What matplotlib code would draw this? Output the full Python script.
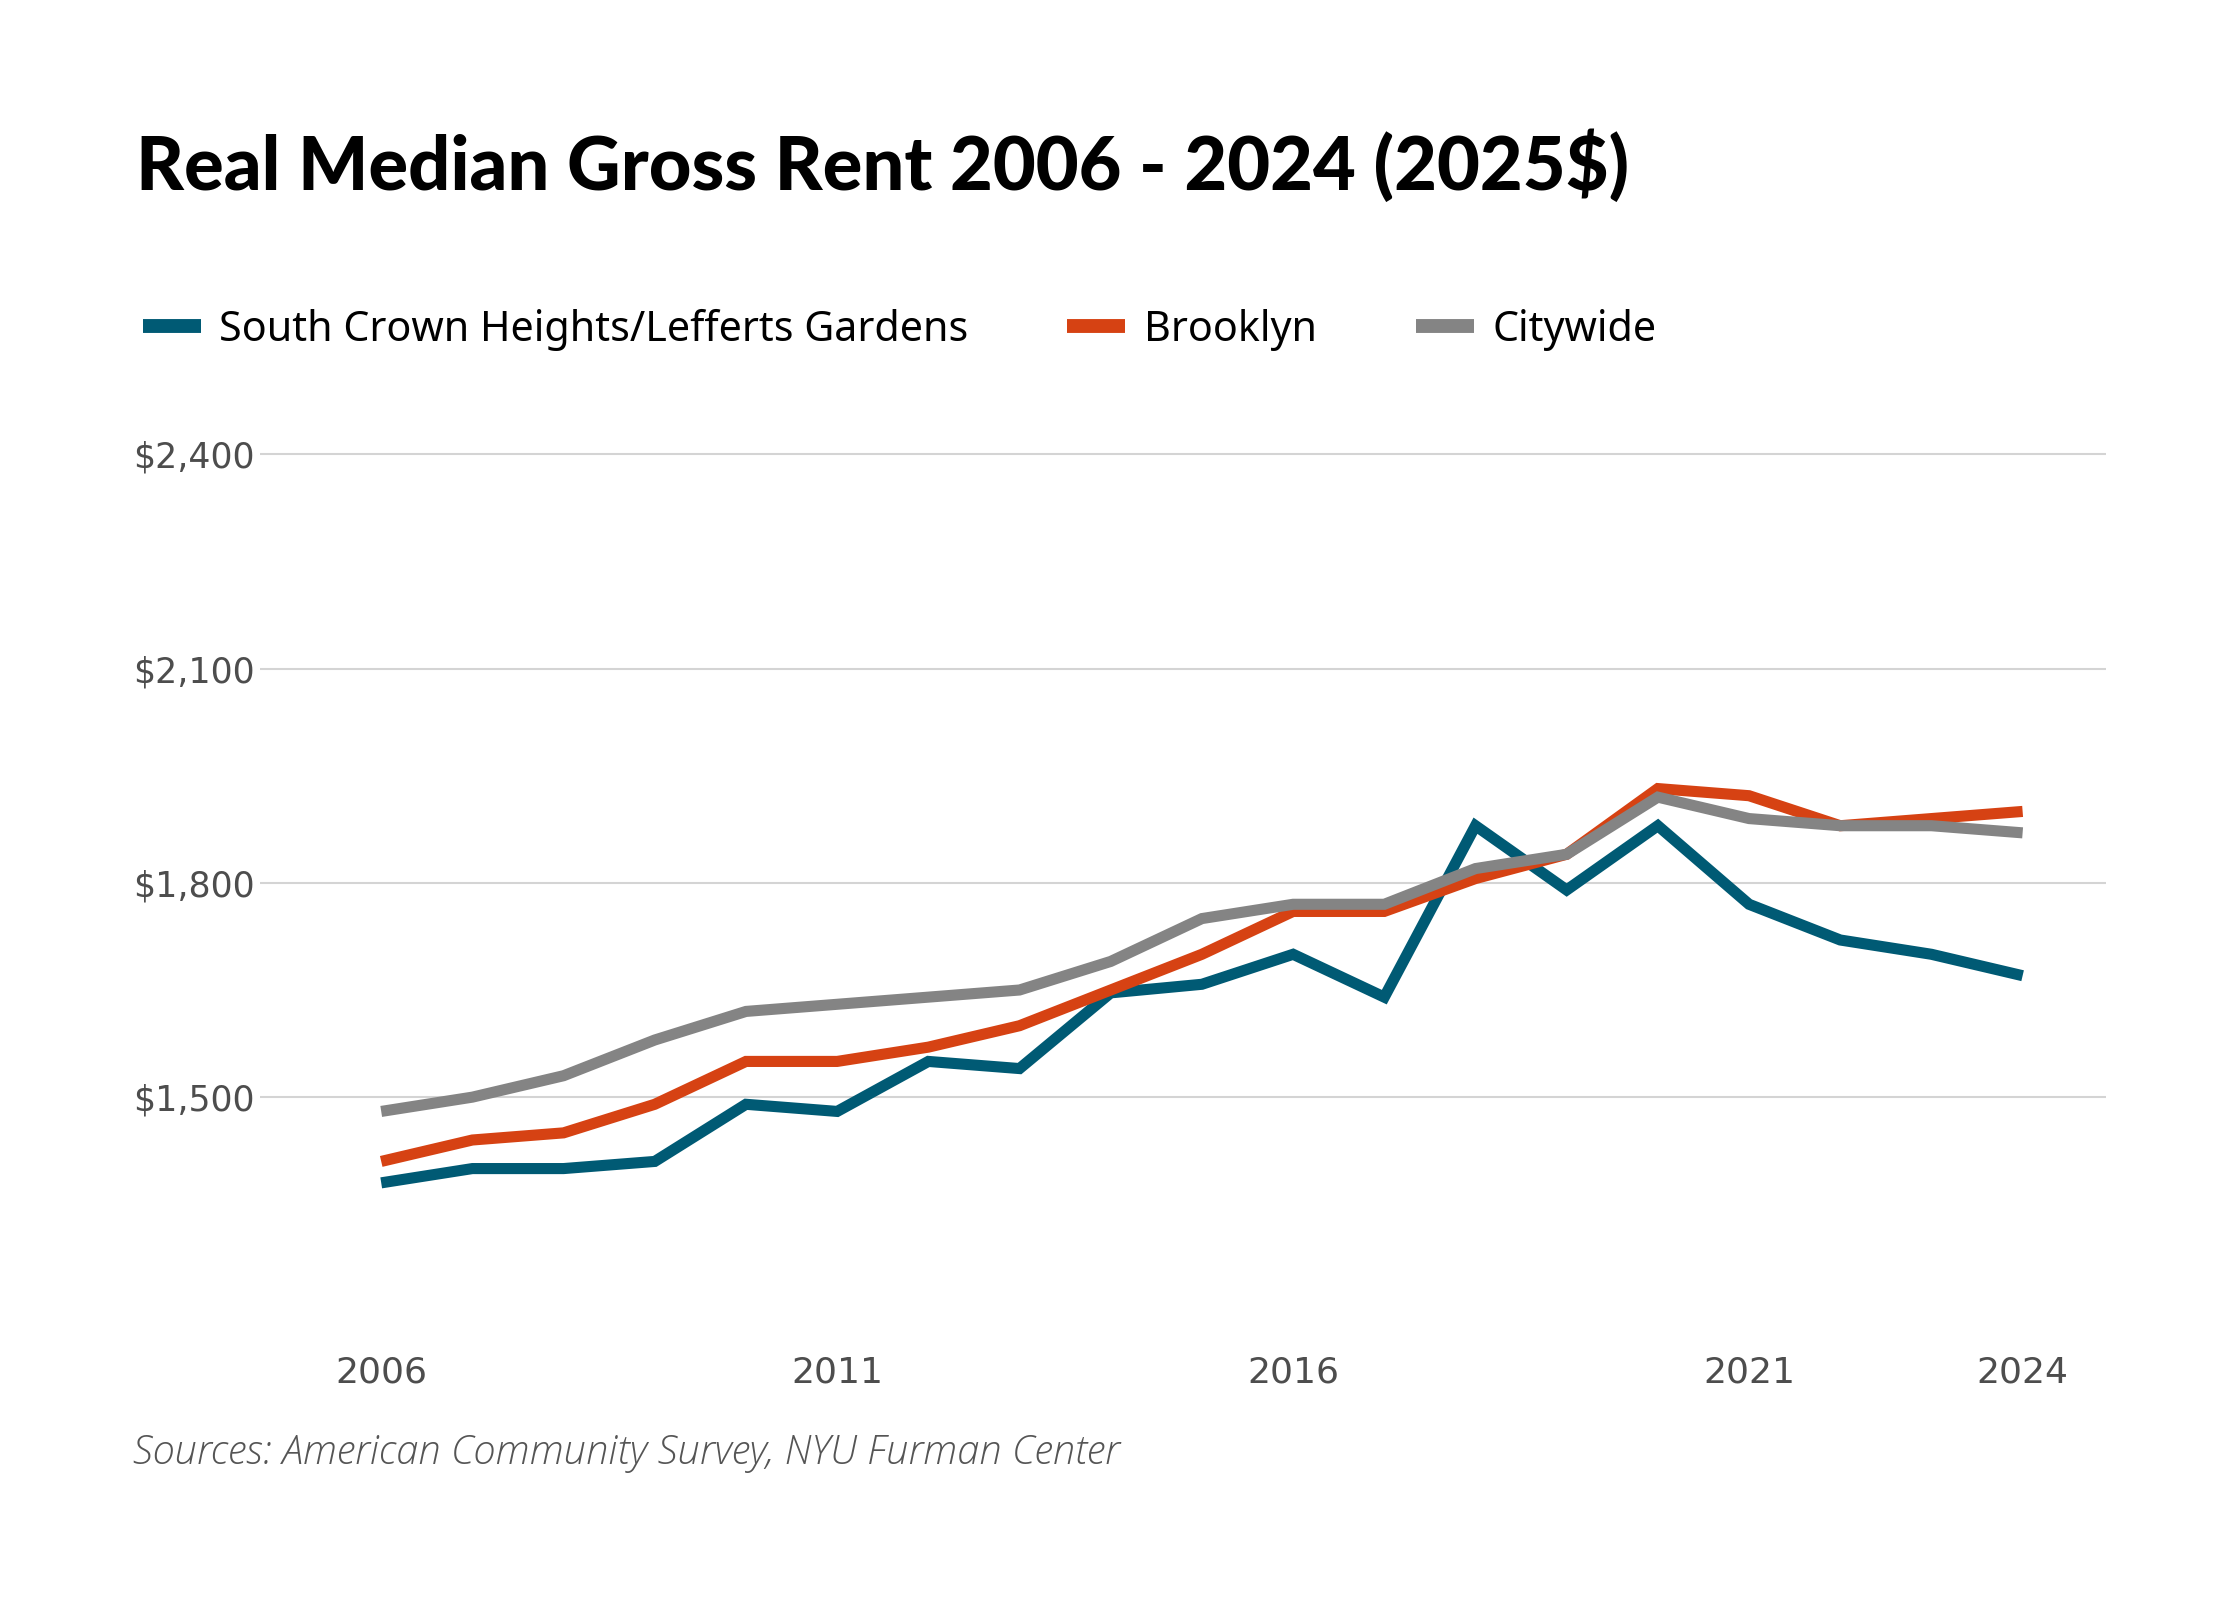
import matplotlib
matplotlib.use("Agg")
import matplotlib.pyplot as plt
from matplotlib.ticker import FuncFormatter

years = list(range(2006, 2025))
south_crown = [1380, 1400, 1400, 1410, 1490, 1480, 1550, 1540, 1646, 1658,
               1700, 1640, 1880, 1790, 1880, 1770, 1720, 1700, 1670]
brooklyn = [1410, 1440, 1450, 1490, 1550, 1550, 1570, 1600, 1650, 1700,
            1760, 1760, 1806, 1840, 1932, 1922, 1880, 1890, 1900]
citywide = [1480, 1500, 1530, 1580, 1620, 1630, 1640, 1650, 1690, 1750,
            1770, 1770, 1820, 1840, 1920, 1890, 1880, 1880, 1870]
series_names = ["South Crown Heights/Lefferts Gardens", "Brooklyn", "Citywide"]
colors = ["#005a74", "#d64213", "#848484"]
x_ticks = [2006, 2011, 2016, 2021, 2024]
y_ticks = [1500, 1800, 2100, 2400]

fig = plt.figure(figsize=(22.4, 16), dpi=100)
ax = fig.add_axes([0.116, 0.21875, 0.824, 0.50625])

for vals, name, c in zip([south_crown, brooklyn, citywide], series_names, colors):
    ax.plot(years, vals, color=c, lw=8, label=name,
            solid_capstyle="butt", solid_joinstyle="miter")

ax.set_xlim(2004.669, 2024.91)
ax.set_ylim(1286, 2420)
ax.set_xticks(x_ticks)
ax.set_yticks(y_ticks)
ax.yaxis.set_major_formatter(FuncFormatter(lambda v, p: f"${v:,.0f}"))
ax.grid(axis="y", color="#d4d4d4", lw=1.5)
ax.set_axisbelow(True)
for s in ax.spines.values():
    s.set_visible(False)
ax.tick_params(length=0)
ax.tick_params(axis="x", pad=76, labelsize=26, labelcolor="#4d4d4d")
ax.tick_params(axis="y", pad=4, labelsize=25, labelcolor="#4d4d4d")

fig.text(0.0607, 0.881, "Real Median Gross Rent 2006 - 2024 (2025$)",
         fontsize=53.3, fontweight="black", family="Lato", color="black",
         va="baseline")

leg = fig.legend(loc="center left", bbox_to_anchor=(0.0638, 0.794), ncol=3,
                 frameon=False, prop={"family": "Noto Sans", "size": 29.7},
                 handlelength=1.4, handletextpad=0.45, columnspacing=2.4,
                 borderpad=0, borderaxespad=0)
for h in leg.get_lines():
    h.set_linewidth(10)

fig.text(0.0593, 0.092, "Sources: American Community Survey, NYU Furman Center",
         fontsize=28.7, style="italic", fontweight="light", family="Open Sans",
         color="#555555", va="center")

fig.savefig("out.png", dpi=100, facecolor="white")
